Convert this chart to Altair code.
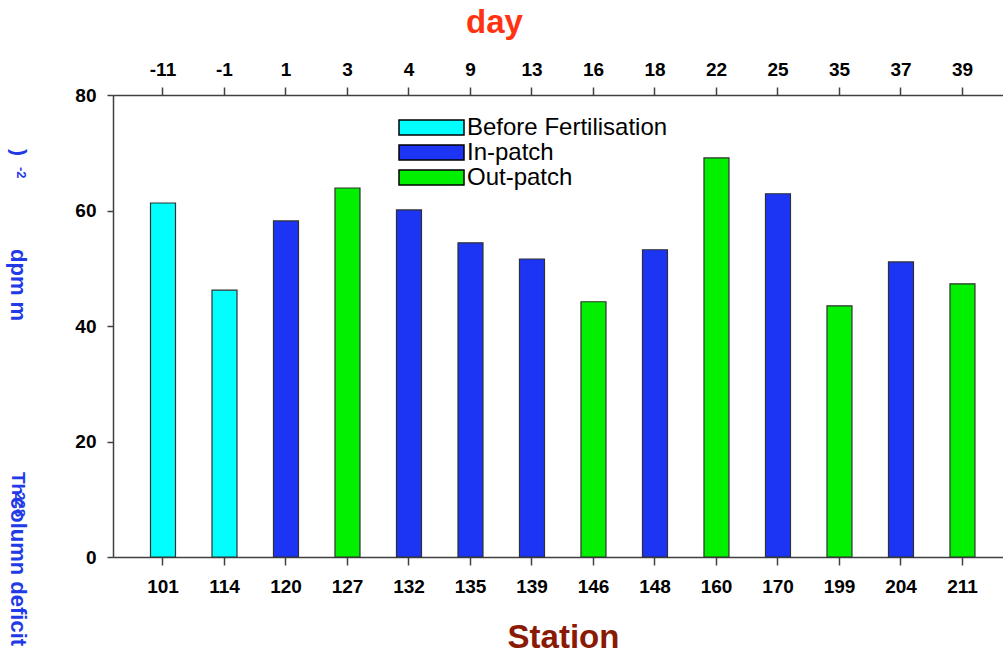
import altair as alt
import pandas as pd

# Station numbers, days relative to fertilisation, Th-228 column deficit and sampling group
stations = ["101", "114", "120", "127", "132", "135", "139", "146", "148", "160", "170", "199", "204", "211"]
days = ["-11", "-1", "1", "3", "4", "9", "13", "16", "18", "22", "25", "35", "37", "39"]
deficit = [61.3, 46.2, 58.2, 63.9, 60.1, 54.4, 51.6, 44.2, 53.2, 69.1, 62.9, 43.5, 51.1, 47.3]
groups = ["Before Fertilisation", "Before Fertilisation", "In-patch", "Out-patch", "In-patch",
          "In-patch", "In-patch", "Out-patch", "In-patch", "Out-patch", "In-patch",
          "Out-patch", "In-patch", "Out-patch"]

group_order = ["Before Fertilisation", "In-patch", "Out-patch"]
group_colors = ["#00ffff", "#1c35f5", "#00f000"]

df = pd.DataFrame({"station": stations, "day": days, "deficit": deficit, "group": groups})

FONT = "Liberation Sans"
AXIS_GREY = "#404040"
TITLE_BLUE = "#1f3ae6"

x_scale = alt.Scale(domain=stations, paddingInner=0, paddingOuter=0.236, align=0.663)

# map station label -> day label for the top axis
day_expr = ("[" + ",".join(f"'{d}'" for d in days) + "][indexof(["
            + ",".join(f"'{s}'" for s in stations) + "], datum.value)]")

axis_style = dict(
    domainColor=AXIS_GREY, domainWidth=1.5, tickColor=AXIS_GREY, tickWidth=1.5,
    tickSize=8, labelFont=FONT, labelFontSize=19, labelFontWeight="bold",
    labelColor="black", labelAngle=0, grid=False,
)

# wide flat swatch; custom paths are scaled by sqrt(size)/2
SWATCH = "M-2.826,-0.652H2.826V0.652H-2.826Z"

bars = alt.Chart(df).mark_bar(width=25, stroke="#303030", strokeWidth=1.2).encode(
    x=alt.X("station:N", scale=x_scale, sort=stations,
            axis=alt.Axis(orient="bottom", title="Station", titleFont=FONT,
                          titleFontSize=33, titleFontWeight="bold", titleColor="#8b1a05",
                          titleX=450, titleY=80, titleBaseline="middle", titleAlign="center",
                          labelPadding=12, **axis_style)),
    y=alt.Y("deficit:Q", scale=alt.Scale(domain=[0, 80], nice=False),
            axis=alt.Axis(values=[0, 20, 40, 60, 80], title=None, labelPadding=11,
                          **{**axis_style, "tickSize": 6})),
    color=alt.Color("group:N",
                    scale=alt.Scale(domain=group_order, range=group_colors),
                    legend=alt.Legend(
                        title=None, orient="none", legendX=306, legendY=20, padding=0,
                        symbolType=SWATCH, symbolSize=529,
                        symbolStrokeColor="black", symbolStrokeWidth=1.5,
                        symbolOpacity=1, labelFont=FONT, labelFontSize=24,
                        labelColor="black", labelOffset=23, labelLimit=400, rowPadding=-6,
                    )),
)

top_axis = alt.Chart(df).mark_point(opacity=0).encode(
    x=alt.X("station:N", scale=x_scale, sort=stations,
            axis=alt.Axis(orient="top", title="day", titleFont=FONT, titleFontSize=33,
                          titleFontWeight="bold", titleColor="#ff3311",
                          titleX=381, titleY=-73, titleBaseline="middle", titleAlign="center",
                          labelExpr=day_expr, labelPadding=8, **axis_style)),
    y=alt.Y("deficit:Q"),
)

# y-axis title pieces, set vertically down the left margin
def title_piece(text, y, size=21, dx=0):
    return alt.Chart(df.head(1)).mark_text(
        text=text, angle=90, align="left", baseline="middle", font=FONT,
        fontSize=size, fontWeight="bold", color=TITLE_BLUE,
    ).encode(x=alt.value(-95 + dx), y=alt.value(y - 95))

pieces = [
    title_piece(")", 149),
    title_piece("-2", 167, size=13, dx=3),
    title_piece("dpm m", 249, size=22),
    title_piece("Th", 472, size=19),
    title_piece("column deficit", 497, size=22),
    title_piece("228", 492, size=15, dx=2),
]

chart = alt.layer(bars, top_axis, *pieces).resolve_axis(x="independent").properties(
    width=890, height=462,
    autosize=alt.AutoSizeParams(type="none"),
    padding={"left": 113, "top": 95, "right": 0, "bottom": 99},
    background="white",
).configure_view(stroke=None)

chart.save("out.html", embed_options={"renderer": "svg", "actions": False})
